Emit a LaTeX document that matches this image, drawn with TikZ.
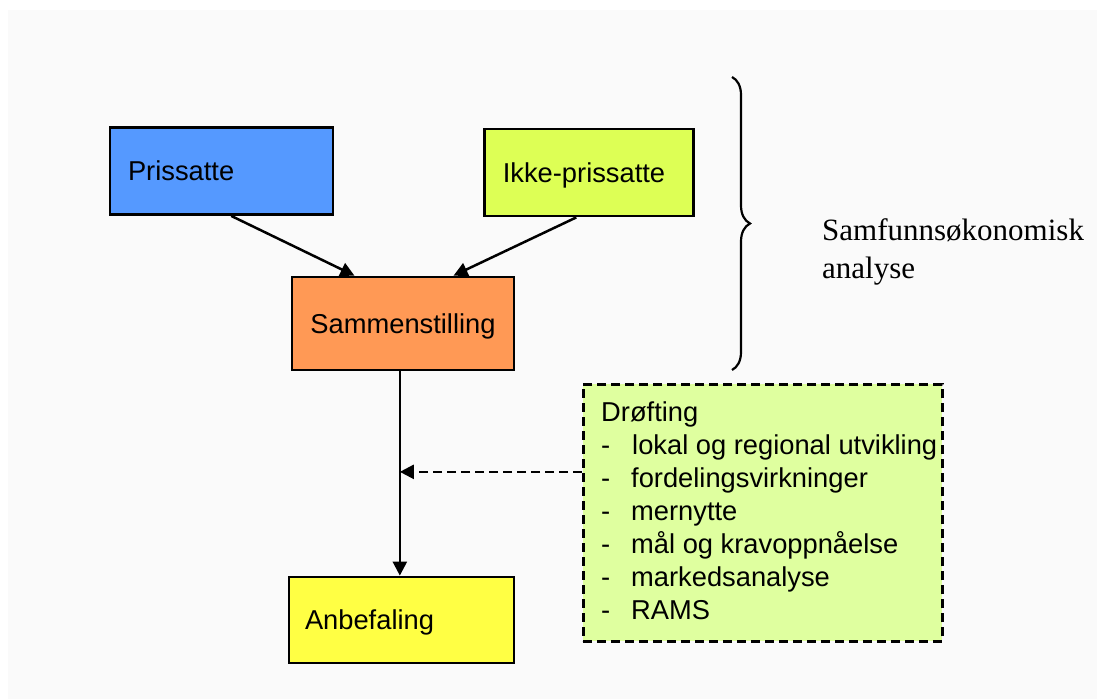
\documentclass[tikz,border=0pt]{standalone}
\usepackage{fontspec}
\setmainfont{Liberation Sans}
\newfontfamily\serifface{Liberation Serif}
\usetikzlibrary{arrows.meta,calc,decorations.pathreplacing}
\definecolor{bgtint}{HTML}{FAFAFA}
\definecolor{prisblue}{HTML}{5599FF}
\definecolor{ikkegreen}{HTML}{DDFF55}
\definecolor{sammorange}{HTML}{FF9955}
\definecolor{anbyellow}{HTML}{FFFF44}
\definecolor{drofgreen}{HTML}{DFFF9F}
\tikzset{
  boxnode/.style={draw=black, line width=2.8pt, rectangle, inner sep=0pt,
    font=\fontsize{27.3}{33}\selectfont, text height=19.5pt, text depth=0pt},
  conn/.style={line width=2.5pt, -{Triangle[length=14pt,width=14pt]}},
  dconn/.style={line width=2.5pt, dash pattern=on 9pt off 5pt, -{Triangle[length=14pt,width=14pt]}},
  listtext/.style={font=\fontsize{27.3}{33}\selectfont, align=left, inner sep=0pt},
}
\begin{document}
\begin{tikzpicture}[x=1pt,y=-1pt]
\useasboundingbox (0,0) rectangle (1097,699);
\fill[bgtint] (8,10) rectangle (1097,699);

\node[boxnode, fill=prisblue, minimum width=223pt, minimum height=87pt, text width=187pt, align=left]
  (pris) at (221.5,171) {Prissatte};
\node[boxnode, fill=ikkegreen, minimum width=209pt, minimum height=87pt]
  (ikke) at (589,172.5) {\hspace*{-10pt}Ikke-prissatte};
\node[boxnode, fill=sammorange, minimum width=222pt, minimum height=93pt]
  (samm) at (403,323.5) {Sammenstilling};
\node[boxnode, fill=anbyellow, minimum width=225pt, minimum height=86pt, text width=193pt, align=left]
  (anb) at (401.5,620) {Anbefaling};

\node[draw=black, line width=2.8pt, dash pattern=on 9pt off 5pt, fill=drofgreen,
  minimum width=359pt, minimum height=257pt, inner sep=0pt, anchor=north west]
  (drof) at (582,383) {};
\node[listtext, anchor=base west] (droftxt) at (601,619.5)
  {Drøfting\\
   \makebox[31pt][l]{-}lokal og regional utvikling\\
   \makebox[30pt][l]{-}fordelingsvirkninger\\
   \makebox[30pt][l]{-}mernytte\\
   \makebox[30pt][l]{-}mål og kravoppnåelse\\
   \makebox[30pt][l]{-}markedsanalyse\\
   \makebox[30pt][l]{-}RAMS};

\coordinate (pstart) at ($(pris.south west)!0.543!(pris.south east)$);
\coordinate (pend) at ($(samm.north west)!0.284!(samm.north east)$);
\coordinate (istart) at ($(ikke.south west)!0.44!(ikke.south east)$);
\coordinate (iend) at ($(samm.north west)!0.725!(samm.north east)$);
\coordinate (sstart) at ($(samm.south west)!0.486!(samm.south east)$);
\coordinate (aend) at (sstart |- anb.north);
\coordinate (dstart) at ($(drof.north west)!0.342!(drof.south west)$);
\coordinate (dend) at (sstart |- dstart);

\draw[conn] (pstart) -- (pend);
\draw[conn] (istart) -- (iend);
\draw[conn] (sstart) -- (aend);
\draw[dconn] (dstart) -- (dend);

\coordinate (btop) at (732,77);
\coordinate (bbot) at (732,370);
\draw[line width=2.2pt, decorate, decoration={brace, amplitude=18pt}] (btop) -- (bbot);

\node[anchor=base west, inner sep=0pt, align=left, font=\serifface\fontsize{31}{38}\selectfont]
  (samf) at (822,278) {Samfunnsøkonomisk\\analyse};
\end{tikzpicture}
\end{document}
